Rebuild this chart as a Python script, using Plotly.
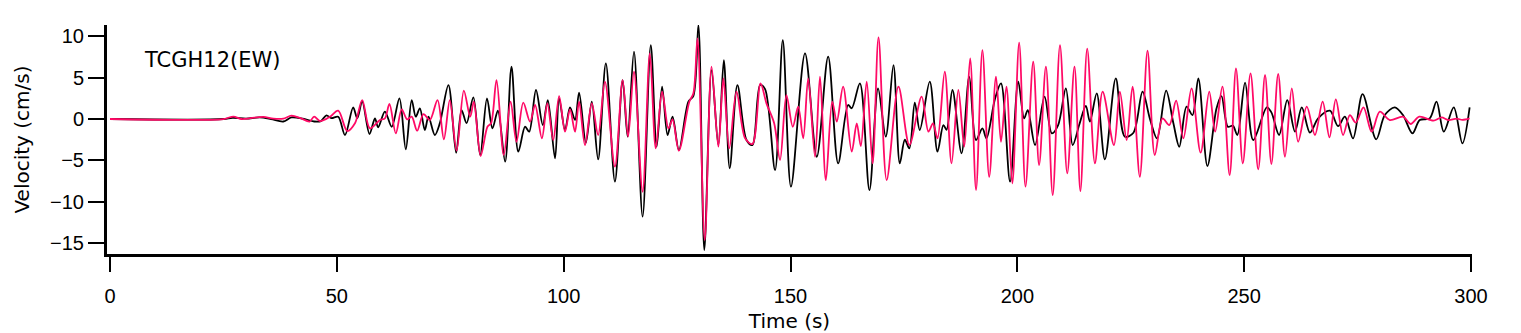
import plotly.graph_objects as go

# Black trace (time s, velocity cm/s)
black_t = [0, 25, 27, 30, 33, 35.5, 38.2, 40, 42.5, 45, 46.5, 47.7, 48.8, 50.3, 51.8, 53.6, 54.5, 55.6, 57.2, 58.4,
           59.1, 60.6, 62.1, 63.8, 65.2, 66.5, 67.4, 68.3, 69.4, 70.2, 71.6, 72.7, 74.6, 76.3, 77.5, 78.6, 80.1, 81.6,
           83.1, 84.3, 85.5, 87.1, 88.5, 90.0, 91.5, 92.4, 93.9, 95.4, 96.5, 98.1, 99.0, 100.3, 101.4, 102.5, 103.4,
           104.9, 106.2, 107.6, 109.3, 111.3, 113, 114.1, 115.5, 117.4, 119.2, 120.5, 121.7, 122.9, 124, 125.4, 127.5,
           128.6, 129.7, 131.0, 132.6, 134.1, 135.3, 136.6, 138.3, 140.3, 141.6, 143.3, 144.4, 146.6, 148.3, 150.1,
           153.2, 155.8, 158.3, 160.5, 162.7, 163.5, 165.3, 167.4, 169.3, 171, 172.7, 174.1, 175.2, 176.2, 177.4,
           178.5, 180.7, 182.4, 183.7, 184.4, 185.7, 187.7, 189.4, 190.9, 192.3, 193.2, 195.1, 196.4, 198.4, 200.2,
           201.5, 202.3, 203.9, 206, 207.6, 209, 210.7, 212.2, 213.7, 215.1, 216, 217.5, 219.3, 221.7, 223.7, 225.6,
           227.6, 229.2, 230.8, 232.8, 234.4, 235.7, 237.3, 238.6, 239.9, 241.9, 243.9, 245.0, 246.4, 247.5, 248.5,
           250.2, 252, 255, 256, 257.7, 259.5, 261.2, 262.7, 264.5, 266.3, 268.9, 270.7, 272.2, 274.0, 276.1, 279.1,
           281, 283.2, 285, 287.1, 288.7, 290.9, 292.4, 294, 296.2, 298.1, 299.7]
black_v = [0, 0, 0.15, 0.05, 0.2, 0.0, -0.3, 0.2, 0.05, -0.3, -0.25, 0.45, 0.1, 0.28, -1.93, 1.41, 0.1, 2.1, -1.81, 0.08,
           -1.0, 0.9, -0.93, 2.49, -3.66, 2.29, 0.28, 1.28, -1.33, 0.28, -1.93, -0.52, 4.1, -4.06, 1.08, -0.5, 2.61, -4.34,
           2.49, -1.13, 1.0, -5.15, 6.31, -3.94, -0.93, -1.53, 3.5, -0.73, 2.29, -4.75, 2.49, -1.33, 1.41, -0.12, 3.17,
           -2.86, 2.09, -4.87, 6.71, -7.56, 4.7, -2.13, 8.12, -11.78, 8.9, -3.34, 3.9, -1.93, 0.28, -3.74, 2.09,
           2.8, 11.34, -15.8, 5.9, -3.14, 7.1, -5.95, 4.1, -2.53, -3.14, 4.1, 3.6, -6.15, 9.5, -8.16,
           7.92, -4.55, 7.52, -5.35, 1.69, 1.3, 4.3, -8.57, 3.7, -2.13, 6.51, -5.35, -2.5, -3.54, 1.97,
           -1.33, 4.5, -3.94, -0.73, -1.3, 3.5, -4.14, 5.1, -2.53, -1.13, -2.33, 2.49, 4.3, -7.56, 4.5,
           0.08, 1.08, -3.14, 2.69, -1.73, -0.73, 3.7, -3.14, -0.6, 1.57, -0.32, 3.1, -4.87, 4.9, -2.13, -1.65,
           3.3, 0.08, -2.33, 3.42, -0.52, -3.34, 1.49, 0.48, 4.9, -5.67, 1.28, 2.77, -0.93, -0.8, -1.93,
           4.38, -2.53, 1.41, 0.8, -1.93, 2.29, -1.53, 1.41, -1.65, 0.08, 1.0, -0.85, 0.28, -2.33, 3.0, -2.45,
           0.48, 1.41, 0.48, -1.73, -0.12, 0.08, 2.09, -1.53, 1.41, -2.94, 1.41]

# Red trace
red_t = [0, 25, 27.2, 29, 31, 33.8, 36, 38.2, 40, 42, 44, 45, 46.3, 48.5, 50.3, 52.3, 54, 55.6, 57.3, 59.5, 60.6,
         61.6, 63, 64.3, 65.5, 66.5, 67.7, 69.1, 70.5, 72.2, 73.6, 74.9, 76.4, 78, 79.4, 80.2, 81.7, 83.2, 84.0,
         85.2, 86.8, 88.3, 89.6, 91.1, 92.6, 93.7, 95.2, 96.4, 97.7, 99.0, 100.3, 101.4, 102.5, 103.4, 104.7, 106.2,
         107.6, 109.1, 111.3, 113, 114.2, 115.5, 117.4, 119, 120.3, 121.7, 123.1, 124, 125.4, 127.7, 128.6, 129.5,
         131.1, 132.6, 134.1, 135.2, 136.5, 138.1, 140, 141.6, 143.4, 144.7, 146.4, 147.7, 149.1, 150.5, 151.7,
         152.8, 153.9, 155.4, 156.5, 157.8, 159.2, 160.2, 161.6, 163.5, 164.6, 165.5, 166.8, 168.1, 169.4, 171.2,
         173.8, 176.2, 178.9, 180.4, 181.4, 182.4, 184.0, 185.5, 187, 188.3, 189.6, 190.9, 192.3, 193.8, 195.3,
         196.4, 197.6, 198.9, 200.4, 201.8, 203.5, 204.8, 206.3, 207.8, 209.4, 211, 212.6, 213.9, 215.4, 217.1,
         218.8, 221.3, 222.6, 224.1, 225.4, 227, 228.7, 230.3, 232, 233.5, 235, 236.6, 238.4, 240.4, 242.3, 243.6,
         245.2, 246.8, 248.2, 249.7, 251.4, 253.1, 254.6, 256.0, 257.5, 259, 260.5, 261.9, 263.8, 265.6, 267.3,
         268.8, 270.2, 271.8, 273.3, 274.6, 276.3, 278.1, 279.9, 282.1, 285, 286.7, 288.6, 291.7, 293.5, 295,
         296.8, 298.1, 299.7]
red_v = [0, 0, 0.3, 0.0, 0.1, 0.25, 0.05, 0.05, 0.4, 0.1, -0.3, 0.3, -0.25, 0.28, 1.0, -1.45, -0.52, 2.29, -1.13, -0.12, 0.08,
         1.81, -1.73, 1.16, -0.04, 0.28, -1.41, 0.6, -0.12, 2.29, -2.45, 2.29, -3.82, 3.42, 0.28, 2.09, -4.46, -0.93, -0.5,
         4.7, -4.34, 2.09, -2.74, 1.97, -0.32, 1.69, -2.33, 1.89, -2.53, 2.77, -1.53, 1.16, -1.53, 2.09, -3.14, 1.89,
         -1.93, 4.5, -5.75, 4.7, -2.13, 5.71, -8.77, 7.92, -3.54, 3.3, -1.13, -0.04, -3.82, 2.09, 3.1, 9.73,
         -14.6, 6.31, -3.34, 4.9, -3.54, 3.3, -2.33, -3.02, 4.3, 1.89, -0.52, -4.95, 2.89, -0.93, 1.49,
         -2.33, 4.9, -4.55, 5.1, -7.36, 2.09, -0.32, 3.9, -3.94, -0.52, -3.26, 4.5, -5.35, 9.85, -7.36,
         3.9, -3.14, 2.69, -1.53, -0.52, -2.33, 5.71, -5.35, 3.5, -3.34, 7.32, -8.57, 8.32, -6.96, 5.1,
         -2.74, 3.9, -7.76, 9.2, -8.16, 6.91, -5.55, 6.31, -9.17, 8.92, -6.56, 6.31, -8.7, 8.5, -5.35,
         3.3, -3.14, 3.3, -2.53, 3.9, -6.96, 8.24, -4.34, 0.08, -0.73, 2.21, -2.33, 3.7, -4.06, 3.3, -1.53,
         3.9, -6.76, 6.11, -5.35, 5.51, -6.07, 5.31, -5.43, 5.43, -4.55, 3.7, -2.74, 1.49, -1.93, 2.09,
         -2.21, 2.37, -1.93, 0.48, -0.44, 1.41, -1.53, 0.88, -0.12, 0.28, -0.6, 0.28, -0.2, 0.2, -0.12,
         0.05, -0.1, 0.08]

x_ticks = [0, 50, 100, 150, 200, 250, 300]
y_ticks = [-15, -10, -5, 0, 5, 10]
label = "TCGH12(EW)"

TICK_FONT = "Liberation Sans, Arial, sans-serif"
TEXT_FONT = "DejaVu Sans, Verdana, sans-serif"

fig = go.Figure()
fig.add_trace(go.Scatter(x=black_t, y=black_v, mode="lines",
                         line=dict(color="#000000", width=1.8, shape="spline", smoothing=0.9),
                         showlegend=False))
fig.add_trace(go.Scatter(x=red_t, y=red_v, mode="lines",
                         line=dict(color="#ff0a66", width=1.8, shape="spline", smoothing=0.9),
                         showlegend=False))

fig.add_annotation(text=label, x=7.0, y=7.1, xref="x", yref="y", xanchor="left", yanchor="middle",
                   showarrow=False, font=dict(family=TEXT_FONT, size=21, color="#000"))

# page body adds an 8px offset, so the figure is sized/margined to compensate
fig.update_layout(
    width=1513, height=325,
    margin=dict(l=99, r=49, t=17, b=79),
    paper_bgcolor="white", plot_bgcolor="white",
    font=dict(family=TICK_FONT, size=19, color="#000"),
    xaxis=dict(range=[-0.66, 300.22], tickvals=x_ticks, showgrid=False, zeroline=False, automargin=False,
               showline=True, linecolor="#000", linewidth=3, ticks="outside", ticklen=15,
               tickwidth=2, tickcolor="#000", ticklabelstandoff=7,
               title=dict(text="Time (s)", standoff=13, font=dict(family=TEXT_FONT, size=20)),
               tickfont=dict(size=20)),
    yaxis=dict(range=[-16.28, 11.34], tickvals=y_ticks, showgrid=False, zeroline=False, automargin=False,
               showline=True, linecolor="#000", linewidth=3, ticks="outside", ticklen=16,
               tickwidth=2, tickcolor="#000",
               title=dict(text="Velocity (cm/s)", standoff=16, font=dict(family=TEXT_FONT, size=20)),
               tickfont=dict(size=20)),
)

fig.write_html("out.html")
